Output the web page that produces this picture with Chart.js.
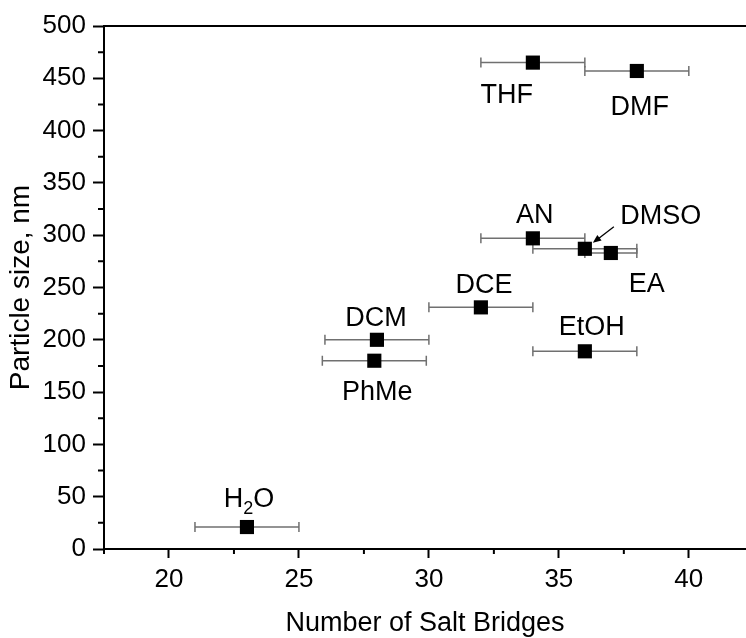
<!DOCTYPE html>
<html>
<head>
<meta charset="utf-8">
<script src="https://cdn.jsdelivr.net/npm/chart.js@4.4.1/dist/chart.umd.min.js"></script>
<style>
  html, body { margin: 0; padding: 0; background: #fff; overflow: hidden; }
  canvas { display: block; }
</style>
</head>
<body>
<canvas id="myChart" width="746" height="638"></canvas>
<script>
// data
const solvents = ['THF', 'DMF', 'AN', 'DMSO', 'EA', 'DCE', 'DCM', 'PhMe', 'EtOH', 'H2O'];
const saltBridges = [34, 38, 34, 36, 37, 32, 28, 27.9, 36, 23];
const particleSize = [465, 457, 297, 287, 283, 231, 200, 180, 189, 21];
const bridgeError = [2, 2, 2, 2, 1, 2, 2, 2, 2, 2];
const xTickLabels = [20, 25, 30, 35, 40];
const yTickLabels = [0, 50, 100, 150, 200, 250, 300, 350, 400, 450, 500];

// where each text label sits relative to its point (px, text centre)
const labelOffsets = {
  THF: [-26, 31], DMF: [3, 34], AN: [2, -25], DMSO: [76, -34], EA: [36, 29],
  DCE: [3, -24], DCM: [-1, -23], PhMe: [3, 30], EtOH: [7, -26], H2O: [2, -30]
};

const FONT = "'Liberation Sans', Arial, sans-serif";
const X_MIN = 17.5, X_MAX = 42.2;

const errorBars = {
  id: 'errorBars',
  beforeDatasetsDraw(chart) {
    const { ctx, scales: { x, y } } = chart;
    ctx.save();
    ctx.strokeStyle = '#707070';
    ctx.lineWidth = 1.5;
    saltBridges.forEach((v, i) => {
      const py = y.getPixelForValue(particleSize[i]);
      const x0 = x.getPixelForValue(v - bridgeError[i]);
      const x1 = x.getPixelForValue(v + bridgeError[i]);
      ctx.beginPath();
      ctx.moveTo(x0, py); ctx.lineTo(x1, py);
      ctx.moveTo(x0, py - 5); ctx.lineTo(x0, py + 5);
      ctx.moveTo(x1, py - 5); ctx.lineTo(x1, py + 5);
      ctx.stroke();
    });
    ctx.restore();
  }
};

const frame = {
  id: 'frame',
  afterDraw(chart) {
    const { ctx, chartArea, scales: { x, y } } = chart;
    ctx.save();
    ctx.strokeStyle = '#000';
    ctx.lineWidth = 2;
    ctx.beginPath();
    // top spine
    ctx.moveTo(chartArea.left, chartArea.top);
    ctx.lineTo(chartArea.right, chartArea.top);
    // minor ticks
    x.ticks.forEach(t => {
      if (xTickLabels.includes(t.value)) return;
      const px = x.getPixelForValue(t.value);
      ctx.moveTo(px, chartArea.bottom); ctx.lineTo(px, chartArea.bottom + 5);
    });
    y.ticks.forEach(t => {
      if (yTickLabels.includes(t.value)) return;
      const py = y.getPixelForValue(t.value);
      ctx.moveTo(chartArea.left, py); ctx.lineTo(chartArea.left - 6, py);
    });
    ctx.stroke();
    ctx.restore();
  }
};

const pointLabels = {
  id: 'pointLabels',
  afterDatasetsDraw(chart) {
    const { ctx, scales: { x, y } } = chart;
    const size = 27;
    ctx.save();
    ctx.fillStyle = '#000';
    ctx.textBaseline = 'alphabetic';
    solvents.forEach((name, i) => {
      const px = x.getPixelForValue(saltBridges[i]);
      const py = y.getPixelForValue(particleSize[i]);
      const [dx, dy] = labelOffsets[name];
      const cx = px + dx, base = py + dy + size * 0.358;
      if (name === 'H2O') {
        ctx.font = size + 'px ' + FONT;
        const wH = ctx.measureText('H').width, wO = ctx.measureText('O').width;
        ctx.font = '18px ' + FONT;
        const w2 = ctx.measureText('2').width;
        let sx = cx - (wH + w2 + wO) / 2;
        ctx.textAlign = 'left';
        ctx.font = size + 'px ' + FONT;
        ctx.fillText('H', sx, base);
        ctx.font = '18px ' + FONT;
        ctx.fillText('2', sx + wH, base + 7);
        ctx.font = size + 'px ' + FONT;
        ctx.fillText('O', sx + wH + w2, base);
      } else {
        ctx.font = size + 'px ' + FONT;
        ctx.textAlign = 'center';
        ctx.fillText(name, cx, base);
      }
      if (name === 'DMSO') {
        // little arrow pointing at the DMSO marker
        const sx = px + 29, sy = py - 22, tx = px + 8, ty = py - 6;
        const ang = Math.atan2(ty - sy, tx - sx);
        ctx.strokeStyle = '#000';
        ctx.lineWidth = 1.3;
        ctx.beginPath();
        ctx.moveTo(sx, sy); ctx.lineTo(tx - 6 * Math.cos(ang), ty - 6 * Math.sin(ang));
        ctx.stroke();
        ctx.beginPath();
        ctx.moveTo(tx, ty);
        ctx.lineTo(tx - 9 * Math.cos(ang - 0.4), ty - 9 * Math.sin(ang - 0.4));
        ctx.lineTo(tx - 9 * Math.cos(ang + 0.4), ty - 9 * Math.sin(ang + 0.4));
        ctx.closePath();
        ctx.fill();
      }
    });
    ctx.restore();
  }
};

const ctx = document.getElementById('myChart').getContext('2d');
const myChart = new Chart(ctx, {
  type: 'scatter',
  data: {
    datasets: [{
      data: saltBridges.map((v, i) => ({ x: v, y: particleSize[i] })),
      pointStyle: 'rect',
      pointRadius: 10,
      pointHoverRadius: 10,
      backgroundColor: '#000',
      borderColor: '#000',
      borderWidth: 0
    }]
  },
  options: {
    responsive: false,
    animation: false,
    events: [],
    layout: { autoPadding: false, padding: { top: 26, right: 0, left: 0, bottom: 0 } },
    plugins: { legend: { display: false }, tooltip: { enabled: false } },
    scales: {
      x: {
        type: 'linear',
        min: X_MIN,
        max: X_MAX,
        afterBuildTicks(s) {
          const t = [];
          for (let v = X_MIN; v <= X_MAX; v += 2.5) t.push({ value: v });
          s.ticks = t;
        },
        afterFit(s) { s.height = 89; s.paddingLeft = 0; s.paddingRight = 0; },
        border: { display: true, color: '#000', width: 2 },
        grid: {
          drawOnChartArea: false,
          tickLength: 9,
          tickWidth: 2,
          tickColor: c => xTickLabels.includes(c.tick.value) ? '#000' : 'rgba(0,0,0,0)'
        },
        ticks: {
          autoSkip: false,
          maxRotation: 0,
          padding: 6,
          color: '#000',
          font: { family: FONT, size: 26 },
          callback: v => xTickLabels.includes(v) ? String(v) : ''
        },
        title: {
          display: true,
          text: 'Number of Salt Bridges',
          color: '#000',
          font: { family: FONT, size: 27 },
          padding: { top: 0, bottom: -2 }
        }
      },
      y: {
        min: 0,
        max: 500,
        afterFit(s) { s.width = 104; },
        border: { display: true, color: '#000', width: 2 },
        grid: {
          drawOnChartArea: false,
          tickLength: 11,
          tickWidth: 2,
          tickColor: c => yTickLabels.includes(c.tick.value) ? '#000' : 'rgba(0,0,0,0)'
        },
        ticks: {
          stepSize: 25,
          autoSkip: false,
          padding: 7,
          color: '#000',
          font: { family: FONT, size: 26 },
          callback: v => yTickLabels.includes(v) ? String(v) : ''
        },
        title: {
          display: true,
          text: 'Particle size, nm',
          color: '#000',
          font: { family: FONT, size: 28 },
          padding: { top: 4, bottom: 0 }
        }
      }
    }
  },
  plugins: [errorBars, frame, pointLabels]
});
</script>
</body>
</html>
